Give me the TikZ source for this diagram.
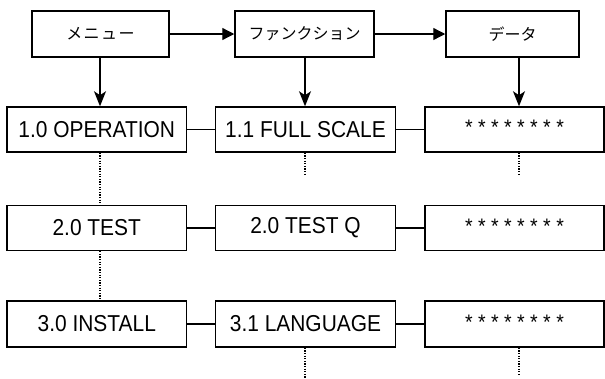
\documentclass[tikz,border=0pt]{standalone}
\usepackage{fontspec}
\usepackage{graphicx}
\setmainfont{Liberation Sans}
\newfontfamily\jpfont{Noto Sans CJK JP}
\newcommand{\lbltxt}[1]{\scalebox{0.91}[1]{\fontsize{23}{26}\selectfont #1}}
\newcommand{\startxt}{\raisebox{4pt}{\scalebox{0.93}[1]{\fontsize{21}{24}\selectfont * * * * * * * *}}}
\usetikzlibrary{arrows.meta}
\begin{document}
\begin{tikzpicture}[x=1pt,y=-1pt,
  box/.style={draw=black,line width=1.5pt,rectangle,inner sep=0pt,anchor=center},
  topbox/.style={box,minimum height=46pt,font=\jpfont\fontsize{16}{18}\selectfont},
  rowbox/.style={box,minimum width=180pt},
  link/.style={line width=1.5pt},
  harrow/.style={line width=1.3pt,-{Triangle[length=12pt,width=12pt]}},
  varrow/.style={line width=1.3pt,-{Stealth[length=15pt,width=12pt,inset=4pt]}},
  dots/.style={line width=1.1pt,dash pattern=on 1.2pt off 1.4pt}]
\useasboundingbox (0,0) rectangle (605,378);
\coordinate (c1x) at (100,0);
\coordinate (c2x) at (305,0);
\coordinate (c3x) at (519,0);
% top row
\node[topbox,minimum width=137pt] (menu) at (100.5,34) {メ\kern1.5ptニ\kern1.5ptュ\kern1.5ptー};
\node[topbox,minimum width=139pt] (func) at (304.5,34) {ファンクション};
\node[topbox,minimum width=133pt] (data) at (512.5,34) {データ};
% rows
\node[rowbox,minimum height=45pt,minimum width=179.5pt] (r1c1) at (96.75,129.5) {\lbltxt{1.0 OPERATION}};
\node[rowbox,minimum height=45pt] (r1c2) at (305.5,129.5) {\lbltxt{1.1 FULL SCALE}};
\node[rowbox,minimum height=45pt,minimum width=179pt] (r1c3) at (514.5,129.5) {\startxt};
\node[rowbox,minimum height=45pt,minimum width=179.5pt] (r2c1) at (96.75,228) {\lbltxt{2.0 TEST}};
\node[rowbox,minimum height=45pt] (r2c2) at (305.5,228) {\lbltxt{2.0 TEST Q}};
\node[rowbox,minimum height=45pt,minimum width=179pt] (r2c3) at (514.5,228) {\startxt};
\node[rowbox,minimum height=46pt,minimum width=179.5pt] (r3c1) at (96.75,324) {\lbltxt{3.0 INSTALL}};
\node[rowbox,minimum height=46pt] (r3c2) at (305.5,324) {\lbltxt{3.1 LANGUAGE}};
\node[rowbox,minimum height=46pt,minimum width=179pt] (r3c3) at (514.5,324) {\startxt};
% free ends of dotted stubs
\coordinate (s12) at (305,176);
\coordinate (s13) at (519,175);
\coordinate (s32) at (305,378);
\coordinate (s33) at (519,376);
% top arrows
\draw[harrow] (menu.east) -- (func.west);
\draw[harrow] (func.east) -- (data.west);
\draw[varrow] (menu.south -| c1x) -- (r1c1.north -| c1x);
\draw[varrow] (func.south -| c2x) -- (r1c2.north -| c2x);
\draw[varrow] (data.south -| c3x) -- (r1c3.north -| c3x);
% horizontal links
\draw[link] (r1c1.east) -- (r1c2.west);
\draw[link] (r1c2.east) -- (r1c3.west);
\draw[link] (r2c1.east) -- (r2c2.west);
\draw[link] (r2c2.east) -- (r2c3.west);
\draw[link] (r3c1.east) -- (r3c2.west);
\draw[link] (r3c2.east) -- (r3c3.west);
% dotted lines
\draw[dots] (r1c1.south -| c1x) -- (r2c1.north -| c1x);
\draw[dots] (r2c1.south -| c1x) -- (r3c1.north -| c1x);
\draw[dots] (r1c2.south -| c2x) -- (s12);
\draw[dots] (r1c3.south -| c3x) -- (s13);
\draw[dots] (r3c2.south -| c2x) -- (s32);
\draw[dots] (r3c3.south -| c3x) -- (s33);
\end{tikzpicture}
\end{document}
